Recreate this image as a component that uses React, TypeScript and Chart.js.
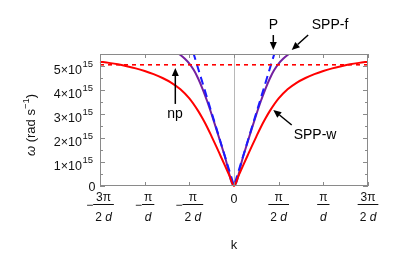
import React, { useEffect, useRef } from "react";
import { Chart, registerables } from "chart.js";
Chart.register(...registerables);

// k in units of π/d, ω in units of 1e15 rad/s
const kSppW = [-1.5, -1.4, -1.3, -1.2, -1.1, -1.0, -0.9, -0.8, -0.7, -0.6, -0.5, -0.4, -0.35, -0.3, -0.25, -0.2, -0.15, -0.1, -0.05, 0, 0.05, 0.1, 0.15, 0.2, 0.25, 0.3, 0.35, 0.4, 0.5, 0.6, 0.7, 0.8, 0.9, 1.0, 1.1, 1.2, 1.3, 1.4, 1.5];
const wSppW = [5.18, 5.13, 5.07, 4.99, 4.9, 4.79, 4.66, 4.5, 4.3, 4.03, 3.65, 3.12, 2.8, 2.45, 2.06, 1.66, 1.25, 0.84, 0.42, 0, 0.42, 0.84, 1.25, 1.66, 2.06, 2.45, 2.8, 3.12, 3.65, 4.03, 4.3, 4.5, 4.66, 4.79, 4.9, 4.99, 5.07, 5.13, 5.18];

const kSppF = [-0.65, -0.6, -0.55, -0.5, -0.45, -0.4, -0.35, -0.3, -0.25, -0.2, -0.1, 0, 0.1, 0.2, 0.25, 0.3, 0.35, 0.4, 0.45, 0.5, 0.55, 0.6, 0.65];
const wSppF = [5.58, 5.46, 5.3, 5.1, 4.83, 4.47, 4.03, 3.53, 2.98, 2.4, 1.2, 0, 1.2, 2.4, 2.98, 3.53, 4.03, 4.47, 4.83, 5.1, 5.3, 5.46, 5.58];

const kLight = [-0.5, 0, 0.5];
const wLight = [6.1, 0, 6.1];

const kNp = [-1.5, 1.5];
const wNp = [5.05, 5.05];

const xTickValues = [-1.5, -1, -0.5, 0, 0.5, 1, 1.5];
const xTickSigns = ["\u2212", "\u2212", "\u2212", "", "", "", ""];
const xTickNums = ["3\u03c0", "\u03c0", "\u03c0", "0", "\u03c0", "\u03c0", "3\u03c0"];
const xTickDens = ["2 d", "d", "2 d", "", "2 d", "d", "2 d"];

const yTickValues = [0, 1, 2, 3, 4, 5];
const yTickBases = ["0", "1\u00d710", "2\u00d710", "3\u00d710", "4\u00d710", "5\u00d710"];
const yTickExps = ["", "15", "15", "15", "15", "15"];

const xTitle = "k";
const yTitleParts = ["\u03c9", " (rad s", "\u22121", ")"];

// annotations: text position and arrow (tail -> tip) in data coordinates
const notes = [
  { text: "np", tx: -0.66, ty: 3.0, ax: -0.657, ay: 3.42, bx: -0.657, by: 4.92 },
  { text: "P", tx: 0.44, ty: 6.7, ax: 0.44, ay: 6.29, bx: 0.44, by: 5.67 },
  { text: "SPP-f", tx: 1.075, ty: 6.7, ax: 0.83, ay: 6.29, bx: 0.646, by: 5.67 },
  { text: "SPP-w", tx: 0.907, ty: 2.125, ax: 0.646, ay: 2.54, bx: 0.44, by: 3.17 },
];

const FONT = "'Liberation Sans', Arial, Helvetica, sans-serif";

function pts(xs: number[], ys: number[]) {
  return xs.map((x, i) => ({ x, y: ys[i] }));
}

function drawSegs(ctx: CanvasRenderingContext2D, segs: { t: string; f: string }[], cx: number, baseline: number) {
  let total = 0;
  for (const s of segs) { ctx.font = s.f; total += ctx.measureText(s.t).width; }
  let x = cx - total / 2;
  for (const s of segs) {
    ctx.font = s.f;
    ctx.fillText(s.t, x, baseline);
    x += ctx.measureText(s.t).width;
  }
  return total;
}

function denSegs(t: string) {
  const segs: { t: string; f: string }[] = [];
  for (const ch of t) {
    if (ch === "d") segs.push({ t: ch, f: `italic 12px ${FONT}` });
    else segs.push({ t: ch, f: `12px ${FONT}` });
  }
  return segs;
}

const deco = {
  id: "deco",
  beforeDatasetsDraw(chart: any) {
    const { ctx, chartArea: a, scales } = chart;
    const x0 = Math.round(scales.x.getPixelForValue(0)) + 0.5;
    ctx.save();
    ctx.strokeStyle = "#b8b8b8";
    ctx.lineWidth = 1;
    ctx.beginPath();
    ctx.moveTo(x0, a.top);
    ctx.lineTo(x0, a.bottom);
    ctx.stroke();
    ctx.restore();
  },
  afterDatasetsDraw(chart: any) {
    const { ctx, chartArea: a, scales } = chart;
    const xs = scales.x, ys = scales.y;
    ctx.save();
    // frame
    ctx.strokeStyle = "#8a8a8a";
    ctx.lineWidth = 1;
    ctx.strokeRect(a.left + 0.5, a.top + 0.5, a.right - a.left - 1, a.bottom - a.top - 1);
    // x ticks
    ctx.beginPath();
    for (const v of xTickValues) {
      const px = Math.round(xs.getPixelForValue(v)) + 0.5;
      ctx.moveTo(px, a.bottom); ctx.lineTo(px, a.bottom - 4);
      ctx.moveTo(px, a.top); ctx.lineTo(px, a.top + 4);
    }
    // y ticks, major and minor
    for (let v = 0; v <= 5.5 + 1e-9; v += 0.5) {
      const py = Math.round(ys.getPixelForValue(v)) + 0.5;
      const len = Math.abs(v - Math.round(v)) < 1e-6 ? 5 : 3;
      ctx.moveTo(a.left, py); ctx.lineTo(a.left + len, py);
      ctx.moveTo(a.right, py); ctx.lineTo(a.right - len, py);
    }
    ctx.stroke();

    ctx.fillStyle = "#111";
    ctx.textBaseline = "alphabetic";
    // y tick labels
    yTickValues.forEach((v, i) => {
      const py = ys.getPixelForValue(v);
      if (!yTickExps[i]) {
        ctx.font = `12.5px ${FONT}`;
        ctx.textAlign = "right";
        ctx.fillText(yTickBases[i], 95.5, py + 4.5);
        return;
      }
      ctx.font = `9.5px ${FONT}`;
      const ew = ctx.measureText(yTickExps[i]).width;
      ctx.textAlign = "right";
      ctx.fillText(yTickExps[i], 93, py + 0.5);
      ctx.font = `12.5px ${FONT}`;
      ctx.fillText(yTickBases[i], 93 - ew - 0.5, py + 8);
    });
    // x tick labels
    ctx.textAlign = "left";
    xTickValues.forEach((v, i) => {
      const px = xs.getPixelForValue(v);
      if (!xTickDens[i]) {
        ctx.font = `12.5px ${FONT}`;
        ctx.textAlign = "center";
        ctx.fillText(xTickNums[i], px, 202.5);
        ctx.textAlign = "left";
        return;
      }
      ctx.font = `12px ${FONT}`;
      const nw = ctx.measureText(xTickNums[i]).width;
      let dw = 0;
      for (const s of denSegs(xTickDens[i])) { ctx.font = s.f; dw += ctx.measureText(s.t).width; }
      const fw = Math.max(nw, dw) + 4;
      let sw = 0;
      if (xTickSigns[i]) { ctx.font = `12px ${FONT}`; sw = ctx.measureText(xTickSigns[i]).width; }
      const left = px - (fw + sw) / 2;
      const fc = left + sw + fw / 2;
      if (xTickSigns[i]) {
        ctx.font = `12px ${FONT}`;
        ctx.fillText(xTickSigns[i], left, 208.5);
      }
      ctx.font = `12px ${FONT}`;
      ctx.fillText(xTickNums[i], fc - nw / 2, 200.5);
      ctx.fillRect(left + sw, 204, fw, 1);
      drawSegs(ctx, denSegs(xTickDens[i]), fc, 221);
    });
    // axis titles
    ctx.font = `13px ${FONT}`;
    ctx.textAlign = "center";
    ctx.fillText(xTitle, xs.getPixelForValue(0), 249);
    ctx.save();
    ctx.translate(34.5, 125);
    ctx.rotate(-Math.PI / 2);
    ctx.textAlign = "left";
    const f1 = `italic 13px ${FONT}`, f2 = `13px ${FONT}`, f3 = `9.5px ${FONT}`;
    const parts = [
      { t: yTitleParts[0], f: f1, dy: 0 },
      { t: yTitleParts[1], f: f2, dy: 0 },
      { t: yTitleParts[2], f: f3, dy: -6 },
      { t: yTitleParts[3], f: f2, dy: 0 },
    ];
    let tw = 0;
    for (const p of parts) { ctx.font = p.f; tw += ctx.measureText(p.t).width; }
    let cx = -tw / 2;
    for (const p of parts) {
      ctx.font = p.f;
      ctx.fillText(p.t, cx, p.dy);
      cx += ctx.measureText(p.t).width;
    }
    ctx.restore();

    // annotations
    ctx.textAlign = "center";
    ctx.textBaseline = "middle";
    ctx.strokeStyle = "#000";
    ctx.fillStyle = "#000";
    for (const n of notes) {
      ctx.font = `14px ${FONT}`;
      ctx.fillText(n.text, xs.getPixelForValue(n.tx), ys.getPixelForValue(n.ty));
      const x1 = xs.getPixelForValue(n.ax), y1 = ys.getPixelForValue(n.ay);
      const x2 = xs.getPixelForValue(n.bx), y2 = ys.getPixelForValue(n.by);
      const ang = Math.atan2(y2 - y1, x2 - x1);
      const hl = 8, hw = 3.5;
      const bxp = x2 - hl * Math.cos(ang), byp = y2 - hl * Math.sin(ang);
      ctx.lineWidth = 1.5;
      ctx.beginPath();
      ctx.moveTo(x1, y1);
      ctx.lineTo(bxp, byp);
      ctx.stroke();
      ctx.beginPath();
      ctx.moveTo(x2, y2);
      ctx.lineTo(bxp + hw * Math.sin(ang), byp - hw * Math.cos(ang));
      ctx.lineTo(bxp - hw * Math.sin(ang), byp + hw * Math.cos(ang));
      ctx.closePath();
      ctx.fill();
    }
    ctx.restore();
  },
};

export default function App() {
  const ref = useRef<HTMLCanvasElement>(null);
  useEffect(() => {
    const chart = new Chart(ref.current as HTMLCanvasElement, {
      type: "line",
      data: {
        datasets: [
          {
            label: "SPP-w",
            data: pts(kSppW, wSppW),
            borderColor: "#ff0000",
            borderWidth: 2,
            pointRadius: 0,
            cubicInterpolationMode: "monotone",
            clip: 1,
            order: 0,
          },
          {
            label: "np",
            data: pts(kNp, wNp),
            borderColor: "#ff0000",
            borderWidth: 1.6,
            borderDash: [4, 4],
            pointRadius: 0,
            clip: 1,
            order: 1,
          },
          {
            label: "P",
            data: pts(kLight, wLight),
            borderColor: "#1a1aff",
            borderWidth: 2,
            borderDash: [8, 5],
            pointRadius: 0,
            clip: 0,
            order: 2,
          },
          {
            label: "SPP-f",
            data: pts(kSppF, wSppF),
            borderColor: "#7420a0",
            borderWidth: 2,
            pointRadius: 0,
            cubicInterpolationMode: "monotone",
            clip: 0,
            order: 3,
          },
        ],
      } as any,
      options: {
        animation: false,
        responsive: false,
        devicePixelRatio: 1,
        layout: { padding: { left: 100, right: 41, top: 54, bottom: 83 } },
        plugins: { legend: { display: false }, tooltip: { enabled: false } },
        scales: {
          x: { type: "linear", min: -1.5, max: 1.5, display: false },
          y: { type: "linear", min: 0, max: 5.5, display: false },
        },
      },
      plugins: [deco],
    } as any);
    return () => chart.destroy();
  }, []);
  return (
    <div style={{ position: "absolute", left: 0, top: 0, width: 409, height: 269, background: "#fff" }}>
      <canvas ref={ref} width={409} height={269} style={{ width: 409, height: 269, display: "block" }} />
    </div>
  );
}
